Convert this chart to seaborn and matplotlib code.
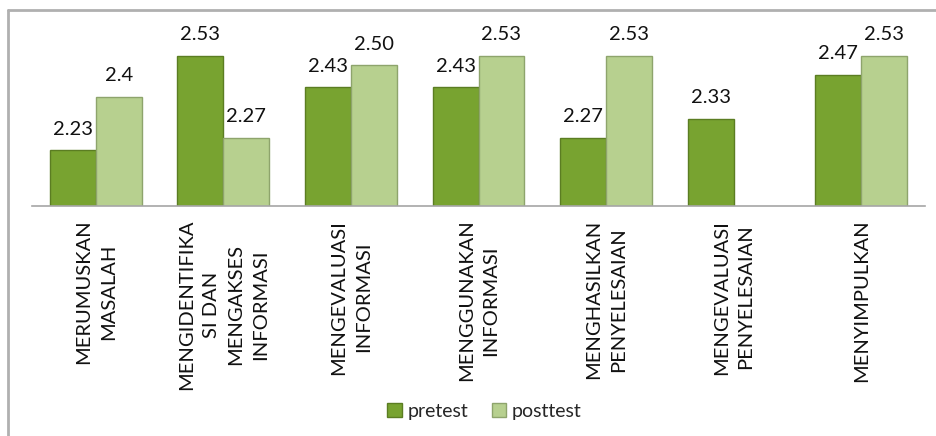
import numpy as np
import pandas as pd
import matplotlib
matplotlib.use("Agg")
import matplotlib.pyplot as plt
import seaborn as sns
from matplotlib.patches import Rectangle
from matplotlib.lines import Line2D

categories = [
    "MERUMUSKAN\nMASALAH",
    "MENGIDENTIFIKA\nSI DAN\nMENGAKSES\nINFORMASI",
    "MENGEVALUASI\nINFORMASI",
    "MENGGUNAKAN\nINFORMASI",
    "MENGHASILKAN\nPENYELESAIAN",
    "MENGEVALUASI\nPENYELESAIAN",
    "MENYIMPULKAN",
]
pretest = [2.23, 2.53, 2.43, 2.43, 2.27, 2.33, 2.47]
posttest = [2.40, 2.27, 2.50, 2.53, 2.53, np.nan, 2.53]
pretest_labels = ["2.23", "2.53", "2.43", "2.43", "2.27", "2.33", "2.47"]
posttest_labels = ["2.4", "2.27", "2.50", "2.53", "2.53", "", "2.53"]
series_names = ["pretest", "posttest"]

sns.set_theme(style="white")
plt.rcParams["font.family"] = ["Lato", "DejaVu Sans"]

df = pd.DataFrame({
    "category": categories * 2,
    "value": pretest + posttest,
    "series": [series_names[0]] * len(categories) + [series_names[1]] * len(categories),
})

fig = plt.figure(figsize=(9.37, 4.36), dpi=100)
ax = fig.add_axes([0.0342, 0.528, 0.953, 0.395])

colors = {"pretest": "#78a330", "posttest": "#b7d08f"}
edges = {"pretest": "#5b7d22", "posttest": "#8ea46c"}
sns.barplot(data=df, x="category", y="value", hue="series", order=categories,
            hue_order=series_names, palette=colors, width=0.72, gap=0,
            ax=ax, legend=False, saturation=1)

for cont, name, labs in zip(ax.containers, series_names, [pretest_labels, posttest_labels]):
    for bar in cont:
        if bar is None:
            continue
        h = bar.get_height()
        if not np.isfinite(h):
            continue
        cx = bar.get_x() + bar.get_width() / 2
        idx = int(round(cx))
        bar.set_edgecolor(edges[name])
        bar.set_linewidth(1.0)
        ax.annotate(labs[idx], (cx, bar.get_y() + h),
                    xytext=(0, 9), textcoords="offset points",
                    ha="center", va="bottom", fontsize=14.5, color="#111111")

ax.set_ylim(2.055, 2.6)
ax.set_xlim(-0.5, len(categories) - 0.5)
for s in ["top", "right", "left"]:
    ax.spines[s].set_visible(False)
ax.spines["bottom"].set_color("#a6a6a6")
ax.spines["bottom"].set_linewidth(1.2)
ax.set_yticks([])
ax.set_xlabel("")
ax.set_ylabel("")
ax.tick_params(axis="x", length=0, pad=10)
ax.set_xticks(range(len(categories)))
ax.set_xticklabels(categories, rotation=90, ha="center", va="top",
                   multialignment="center", fontsize=14.5, color="#111111",
                   linespacing=1.55)

handles = [Rectangle((0, 0), 1, 1, facecolor=colors[n], edgecolor=edges[n]) for n in series_names]
fig.legend(handles, series_names, loc="center", bbox_to_anchor=(0.517, 0.057),
           ncol=2, frameon=False, fontsize=14, handlelength=0.75, handleheight=0.75,
           handletextpad=0.3, columnspacing=1.2)

# outer chart frame (partially cropped in the reference)
fig.add_artist(Line2D([0.009, 0.009], [0.0, 0.977], transform=fig.transFigure,
                      color="#b0b0b0", linewidth=2))
fig.add_artist(Line2D([0.009, 1.0], [0.977, 0.977], transform=fig.transFigure,
                      color="#b0b0b0", linewidth=2))

fig.savefig("out.png", dpi=100)
